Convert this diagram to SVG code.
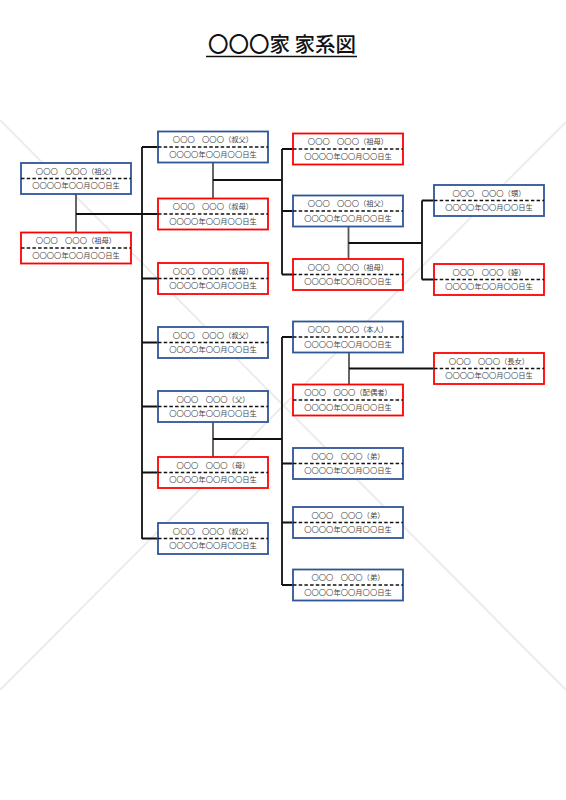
<svg xmlns="http://www.w3.org/2000/svg" width="566" height="800" viewBox="0 0 566 800">
<style>
  .bg{fill:#ffffff}
  .wm{stroke:#ececec;stroke-width:2;fill:none}
  .box{fill:#ffffff;stroke-width:1.8}
  .m{stroke:#2f5597}
  .f{stroke:#ff0000}
  .dash{stroke:#111;stroke-width:1.6;stroke-dasharray:3.5 2.2}
  .t{font-family:"Noto Sans CJK JP","Noto Sans",sans-serif;font-size:7.3px;fill:#444;text-anchor:middle}
  .title{font-family:"Noto Sans CJK JP","Noto Sans",sans-serif;font-size:20.5px;font-weight:500;fill:#111;text-anchor:middle}
  .ln{stroke:#111;stroke-width:1.8;fill:none}
  .cp{stroke:#555;stroke-width:1.8;fill:none}
</style>
<defs>
  <g id="mbox">
    <rect class="box m" x="0" y="0" width="110" height="31"/>
    <line class="dash" x1="0" y1="15.5" x2="110" y2="15.5"/>
  </g>
  <g id="fbox">
    <rect class="box f" x="0" y="0" width="110" height="31"/>
    <line class="dash" x1="0" y1="15.5" x2="110" y2="15.5"/>
  </g>
</defs>
<rect class="bg" x="0" y="0" width="566" height="800"/>
<g id="watermark">
  <line class="wm" x1="0" y1="120" x2="566" y2="690"/>
  <line class="wm" x1="566" y1="122" x2="0" y2="690"/>
</g>
<g id="title">
  <text class="title" x="282" y="52">〇〇〇家 家系図</text>
  <line x1="206" y1="56.5" x2="357" y2="56.5" stroke="#111" stroke-width="1.5"/>
</g>
<g id="connectors">
  <path class="cp" d="M76 194V232"/>
  <path class="ln" d="M76 214H142"/>
  <path class="ln" d="M142 147V539"/>
  <path class="ln" d="M142 147H158M142 214H158M142 278.5H158M142 342.5H158M142 406.5H158M142 472.5H158M142 538.5H158"/>
  <path class="cp" d="M213 163V198"/>
  <path class="ln" d="M213 180H282"/>
  <path class="ln" d="M282 149V274.5M282 149H293M282 211H293M282 274.5H293"/>
  <path class="cp" d="M348.5 226.5V259"/>
  <path class="ln" d="M348.5 243H422"/>
  <path class="ln" d="M422 200.5V279.5M422 200.5H434M422 279.5H434"/>
  <path class="cp" d="M213 422V457"/>
  <path class="ln" d="M213 439H282"/>
  <path class="ln" d="M282 337V585M282 337H293M282 463.5H293M282 522.5H293M282 585H293"/>
  <path class="cp" d="M349 352.5V384.5"/>
  <path class="ln" d="M349 368.5H434"/>
</g>
<g id="n-sofu1" transform="translate(21,163)"><use href="#mbox"/><text class="t" x="55" y="10.7">〇〇〇　〇〇〇（祖父）</text><text class="t" x="55" y="25.2">〇〇〇〇年〇〇月〇〇日生</text></g>
<g id="n-sobo1" transform="translate(21,232.5)"><use href="#fbox"/><text class="t" x="55" y="10.7">〇〇〇　〇〇〇（祖母）</text><text class="t" x="55" y="25.2">〇〇〇〇年〇〇月〇〇日生</text></g>
<g id="n-oji1" transform="translate(158,131.5)"><use href="#mbox"/><text class="t" x="55" y="10.7">〇〇〇　〇〇〇（叔父）</text><text class="t" x="55" y="25.2">〇〇〇〇年〇〇月〇〇日生</text></g>
<g id="n-oba1" transform="translate(158,198.5)"><use href="#fbox"/><text class="t" x="55" y="10.7">〇〇〇　〇〇〇（叔母）</text><text class="t" x="55" y="25.2">〇〇〇〇年〇〇月〇〇日生</text></g>
<g id="n-oba2" transform="translate(158,263)"><use href="#fbox"/><text class="t" x="55" y="10.7">〇〇〇　〇〇〇（叔母）</text><text class="t" x="55" y="25.2">〇〇〇〇年〇〇月〇〇日生</text></g>
<g id="n-oji2" transform="translate(158,327)"><use href="#mbox"/><text class="t" x="55" y="10.7">〇〇〇　〇〇〇（叔父）</text><text class="t" x="55" y="25.2">〇〇〇〇年〇〇月〇〇日生</text></g>
<g id="n-chichi" transform="translate(158,391)"><use href="#mbox"/><text class="t" x="55" y="10.7">〇〇〇　〇〇〇（父）</text><text class="t" x="55" y="25.2">〇〇〇〇年〇〇月〇〇日生</text></g>
<g id="n-haha" transform="translate(158,457)"><use href="#fbox"/><text class="t" x="55" y="10.7">〇〇〇　〇〇〇（母）</text><text class="t" x="55" y="25.2">〇〇〇〇年〇〇月〇〇日生</text></g>
<g id="n-oji3" transform="translate(158,523)"><use href="#mbox"/><text class="t" x="55" y="10.7">〇〇〇　〇〇〇（叔父）</text><text class="t" x="55" y="25.2">〇〇〇〇年〇〇月〇〇日生</text></g>
<g id="n-sobo2" transform="translate(293,133.5)"><use href="#fbox"/><text class="t" x="55" y="10.7">〇〇〇　〇〇〇（祖母）</text><text class="t" x="55" y="25.2">〇〇〇〇年〇〇月〇〇日生</text></g>
<g id="n-sofu2" transform="translate(293,195.5)"><use href="#mbox"/><text class="t" x="55" y="10.7">〇〇〇　〇〇〇（祖父）</text><text class="t" x="55" y="25.2">〇〇〇〇年〇〇月〇〇日生</text></g>
<g id="n-sobo3" transform="translate(293,259)"><use href="#fbox"/><text class="t" x="55" y="10.7">〇〇〇　〇〇〇（祖母）</text><text class="t" x="55" y="25.2">〇〇〇〇年〇〇月〇〇日生</text></g>
<g id="n-honnin" transform="translate(293,321.5)"><use href="#mbox"/><text class="t" x="55" y="10.7">〇〇〇　〇〇〇（本人）</text><text class="t" x="55" y="25.2">〇〇〇〇年〇〇月〇〇日生</text></g>
<g id="n-haigusha" transform="translate(293,384.5)"><use href="#fbox"/><text class="t" x="55" y="10.7">〇〇〇　〇〇〇（配偶者）</text><text class="t" x="55" y="25.2">〇〇〇〇年〇〇月〇〇日生</text></g>
<g id="n-otouto1" transform="translate(293,448)"><use href="#mbox"/><text class="t" x="55" y="10.7">〇〇〇　〇〇〇（弟）</text><text class="t" x="55" y="25.2">〇〇〇〇年〇〇月〇〇日生</text></g>
<g id="n-otouto2" transform="translate(293,507)"><use href="#mbox"/><text class="t" x="55" y="10.7">〇〇〇　〇〇〇（弟）</text><text class="t" x="55" y="25.2">〇〇〇〇年〇〇月〇〇日生</text></g>
<g id="n-otouto3" transform="translate(293,569.5)"><use href="#mbox"/><text class="t" x="55" y="10.7">〇〇〇　〇〇〇（弟）</text><text class="t" x="55" y="25.2">〇〇〇〇年〇〇月〇〇日生</text></g>
<g id="n-oi" transform="translate(434,185)"><use href="#mbox"/><text class="t" x="55" y="10.7">〇〇〇　〇〇〇（甥）</text><text class="t" x="55" y="25.2">〇〇〇〇年〇〇月〇〇日生</text></g>
<g id="n-mei" transform="translate(434,264)"><use href="#fbox"/><text class="t" x="55" y="10.7">〇〇〇　〇〇〇（姪）</text><text class="t" x="55" y="25.2">〇〇〇〇年〇〇月〇〇日生</text></g>
<g id="n-choujo" transform="translate(434,353)"><use href="#fbox"/><text class="t" x="55" y="10.7">〇〇〇　〇〇〇（長女）</text><text class="t" x="55" y="25.2">〇〇〇〇年〇〇月〇〇日生</text></g>
</svg>
